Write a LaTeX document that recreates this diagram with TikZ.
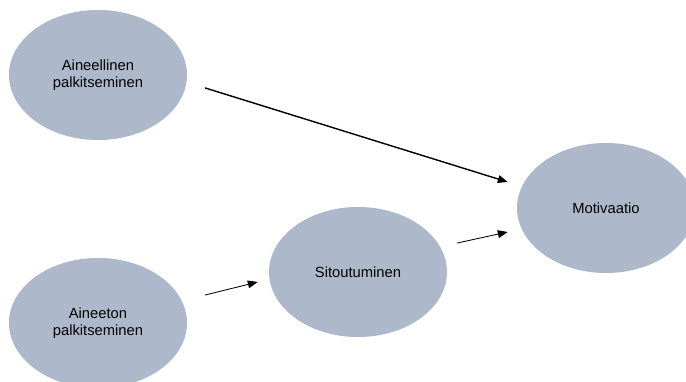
\documentclass[tikz,border=0pt]{standalone}
\usepackage{fontspec}
\setmainfont{Liberation Sans}
\usetikzlibrary{arrows.meta,shapes.geometric}

\definecolor{ovalfill}{HTML}{ADB9CA}

\begin{document}
\begin{tikzpicture}[x=0.025cm, y=0.025cm, >={Triangle[length=7pt,width=5.5pt]},
    line cap=round, line join=round,
    oval/.style={ellipse, fill=ovalfill, inner sep=0pt, align=center,
      minimum width=4.45cm, minimum height=3.25cm,
      font=\fontsize{10.5}{12.3}\selectfont}]

  % frame of the picture (pixels of the reference)
  \useasboundingbox (0,0) rectangle (686,382);

  % the four constructs
  \node[oval] (ain)  at (98,307)  {Aineellinen\\palkitseminen};
  \node[oval] (aton) at (98,59)   {Aineeton\\palkitseminen};
  \node[oval] (sit)  at (358,110) {Sitoutuminen};
  \node[oval] (mot)  at (606,174) {Motivaatio};

  % paths between them (arrows stop short of the ovals)
  \draw[->, line width=1pt] ([shift={(18,-13)}]ain.east) -- ([shift={(-9,26)}]mot.west);
  \draw[->, line width=0.6pt] ([shift={(18,28)}]aton.east) -- ([shift={(-11,-10)}]sit.west);
  \draw[->, line width=0.6pt] ([shift={(10,29)}]sit.east) -- ([shift={(-9,-24)}]mot.west);

\end{tikzpicture}
\end{document}
